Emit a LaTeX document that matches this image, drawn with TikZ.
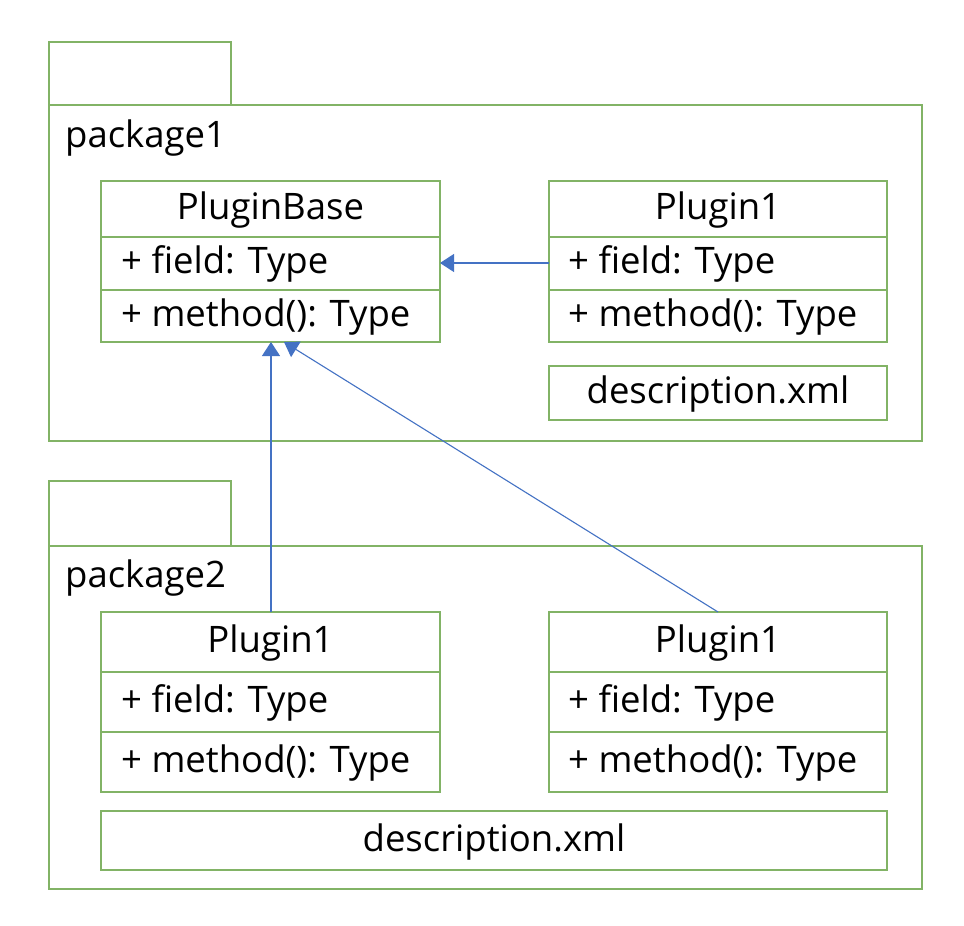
\documentclass[tikz,border=0pt]{standalone}
\usepackage{fontspec}
\setmainfont{Open Sans}
\usetikzlibrary{arrows.meta}
\definecolor{grn}{RGB}{130,179,102}
\definecolor{blu}{RGB}{68,114,196}
\tikzset{
  box/.style={draw=grn, line width=1.6pt},
  txt/.style={font=\fontsize{36.5}{44}\selectfont, inner sep=0pt},
  inh/.style={draw=blu, line width=1.1pt, -{Triangle[length=14pt,width=18pt]}},
}
\begin{document}
\begin{tikzpicture}[x=1pt,y=-1pt]
\useasboundingbox (0,0) rectangle (964,926);
\fill[white] (0,0) rectangle (964,926);
% package 1
\draw[box] (49,42) rectangle (231,105);
\draw[box] (49,105) rectangle (922,441);
\node[txt, anchor=west] (p1) at (65,138) {package1};
% package 2
\draw[box] (49,481) rectangle (231,546);
\draw[box] (49,546) rectangle (922,889);
\node[txt, anchor=west] (p2) at (65,578) {package2};
% PluginBase
\draw[box] (101,181) rectangle (440,342);
\draw[box] (101,237) -- (440,237);
\draw[box] (101,290) -- (440,290);
\node[txt] (pbname) at (270.5,210) {PluginBase};
\node[txt, anchor=west] (pbf) at (121,264) {+ field: Type};
\node[txt, anchor=west] (pbm) at (121,317) {+ method(): Type};
\coordinate (pbR) at (440,263);
\coordinate (pbB1) at (271,342);
\coordinate (pbB2) at (284,342);
% Plugin1 top
\draw[box] (549,181) rectangle (887,342);
\draw[box] (549,237) -- (887,237);
\draw[box] (549,290) -- (887,290);
\node[txt] (t1name) at (718,210) {Plugin1};
\node[txt, anchor=west] (t1f) at (568,264) {+ field: Type};
\node[txt, anchor=west] (t1m) at (568,317) {+ method(): Type};
\coordinate (t1L) at (549,263);
\draw[box] (549,366) rectangle (887,420);
\node[txt] (d1) at (718,394) {description.xml};
% Plugin1 bottom left
\draw[box] (101,612) rectangle (440,792);
\draw[box] (101,672) -- (440,672);
\draw[box] (101,732) -- (440,732);
\node[txt] (b1name) at (270.5,643) {Plugin1};
\node[txt, anchor=west] (b1f) at (121,703) {+ field: Type};
\node[txt, anchor=west] (b1m) at (121,763) {+ method(): Type};
\coordinate (b1T) at (271,612);
% Plugin1 bottom right
\draw[box] (549,612) rectangle (887,792);
\draw[box] (549,672) -- (887,672);
\draw[box] (549,732) -- (887,732);
\node[txt] (b2name) at (718,643) {Plugin1};
\node[txt, anchor=west] (b2f) at (568,703) {+ field: Type};
\node[txt, anchor=west] (b2m) at (568,763) {+ method(): Type};
\coordinate (b2T) at (718,612);
% description bottom
\draw[box] (101,811) rectangle (887,870);
\node[txt] (d2) at (494,842) {description.xml};
% arrows
\draw[inh] (t1L) -- (pbR);
\draw[inh] (b1T) -- (pbB1);
\draw[inh] (b2T) -- (pbB2);
\end{tikzpicture}
\end{document}
